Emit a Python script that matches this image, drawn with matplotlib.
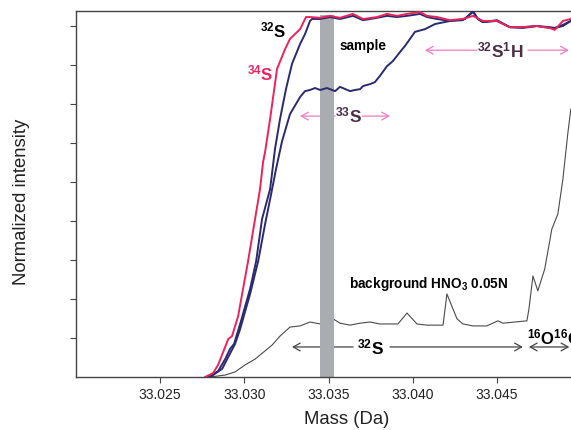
import matplotlib
matplotlib.use("Agg")
import matplotlib.pyplot as plt

plt.rcParams['font.family'] = ['Liberation Sans', 'DejaVu Sans']
plt.rcParams['mathtext.fontset'] = 'custom'
plt.rcParams['mathtext.rm'] = 'Liberation Sans'
plt.rcParams['mathtext.bf'] = 'Liberation Sans:bold'
plt.rcParams['mathtext.it'] = 'Liberation Sans:italic'

# ---------------- data (mass offsets in mDa above 33.020 Da, normalized intensity) -------------
base_mass = 33.020

s34_x = [7.67, 8.14, 8.44, 9.04, 9.27, 9.63, 10.22, 10.93, 11.11, 11.23, 11.53, 11.94, 12.42, 12.71,
         13.31, 13.66, 13.90, 14.50, 15.09, 15.68, 16.45, 17.05, 17.88, 18.47, 19.07, 19.66, 20.43,
         20.85, 21.44, 22.21, 22.98, 23.58, 24.17, 25.00, 25.77, 26.54, 27.37, 28.14, 28.44, 28.92, 29.39]
s34_y = [0.000, 0.010, 0.031, 0.097, 0.105, 0.156, 0.297, 0.482, 0.551, 0.577, 0.662, 0.790, 0.841, 0.867,
         0.892, 0.923, 0.923, 0.921, 0.926, 0.921, 0.931, 0.918, 0.923, 0.931, 0.926, 0.931, 0.936,
         0.926, 0.923, 0.915, 0.918, 0.926, 0.913, 0.913, 0.897, 0.897, 0.900, 0.895, 0.890, 0.913, 0.918]

s32_x = [7.85, 8.44, 8.86, 9.15, 9.39, 9.75, 10.34, 10.70, 11.05, 11.53, 11.82, 12.12, 12.47, 12.83,
         13.31, 13.60, 13.90, 14.02, 14.50, 15.09, 15.68, 16.45, 17.05, 17.88, 18.47, 19.07, 19.66,
         20.43, 20.85, 21.44, 22.21, 22.98, 23.58, 23.87, 24.17, 25.00, 25.77, 26.54, 27.37, 28.14,
         28.44, 28.92, 29.39]
s32_y = [0.000, 0.015, 0.046, 0.072, 0.085, 0.136, 0.226, 0.297, 0.405, 0.482, 0.585, 0.662, 0.738, 0.803,
         0.854, 0.879, 0.913, 0.918, 0.918, 0.923, 0.918, 0.926, 0.915, 0.921, 0.926, 0.923, 0.926,
         0.931, 0.923, 0.918, 0.913, 0.915, 0.936, 0.918, 0.910, 0.915, 0.897, 0.895, 0.900, 0.897,
         0.895, 0.900, 0.913]

s33_x = [7.97, 8.68, 9.04, 9.45, 9.75, 10.34, 10.82, 11.23, 11.53, 11.88, 12.24, 12.71, 13.31, 13.60,
         13.90, 14.20, 14.50, 14.91, 15.39, 15.68, 16.28, 16.57, 16.87, 17.05, 17.46, 17.75, 18.05,
         18.47, 18.82, 19.24, 19.54, 19.84, 20.13, 20.73, 21.32, 22.21, 23.10, 23.58, 23.87, 24.17,
         25.00, 25.77, 26.54, 27.37, 28.14, 28.44, 28.92, 29.39]
s33_y = [0.000, 0.021, 0.051, 0.085, 0.123, 0.213, 0.297, 0.392, 0.456, 0.533, 0.605, 0.674, 0.718, 0.733,
         0.736, 0.741, 0.736, 0.741, 0.733, 0.744, 0.733, 0.736, 0.738, 0.746, 0.751, 0.756, 0.772,
         0.797, 0.810, 0.833, 0.849, 0.867, 0.885, 0.892, 0.905, 0.913, 0.918, 0.938, 0.918, 0.910,
         0.913, 0.897, 0.897, 0.900, 0.895, 0.895, 0.903, 0.913]

bg_x = [7.97, 8.86, 9.45, 10.04, 10.64, 11.23, 11.65, 12.12, 12.71, 13.31, 13.90, 14.50, 15.09, 15.68,
        16.28, 16.87, 17.46, 18.05, 19.12, 19.66, 20.25, 20.85, 21.80, 22.03, 22.63, 22.98, 23.58,
        24.40, 25.06, 25.36, 26.78, 26.90, 27.14, 27.43, 27.84, 28.26, 28.62, 28.92, 29.22, 29.39]
bg_y = [0.000, 0.005, 0.013, 0.031, 0.046, 0.067, 0.082, 0.105, 0.128, 0.131, 0.141, 0.136, 0.154, 0.138,
        0.133, 0.138, 0.141, 0.136, 0.136, 0.164, 0.136, 0.133, 0.133, 0.213, 0.149, 0.136, 0.131,
        0.131, 0.144, 0.138, 0.144, 0.174, 0.259, 0.221, 0.277, 0.379, 0.418, 0.508, 0.628, 0.687]

sample_window = (33.03452, 33.03530)
x_ticks = [33.025, 33.030, 33.035, 33.040, 33.045]
y_ticks = [0.1, 0.2, 0.3, 0.4, 0.5, 0.6, 0.7, 0.8, 0.9]


def mass(offsets):
    return [base_mass + o / 1000.0 for o in offsets]


RED = '#e8245c'
NAVY = '#2c2a6e'
PINK = '#f07cbf'
PLUM = '#4a2f44'
BGC = '#4a4a4a'

fig = plt.figure(figsize=(5.71, 4.31), dpi=100)
ax = fig.add_axes([76 / 571, 1 - 378 / 431, 1 - 76 / 571, (378 - 12) / 431])
ax.set_xlim(33.0200, 33.0494)
ax.set_ylim(0, 0.9385)

ax.axvspan(*sample_window, ymin=0, ymax=0.99, color='#a9adb1', lw=0, zorder=2)

ax.plot(mass(bg_x), bg_y, color=BGC, lw=0.8, zorder=1.5)
ax.plot(mass(s33_x), s33_y, color=NAVY, lw=1.4, zorder=3)
ax.plot(mass(s32_x), s32_y, color=NAVY, lw=1.4, zorder=3)
ax.plot(mass(s34_x), s34_y, color=RED, lw=1.4, zorder=3.1)

ax.set_xticks(x_ticks)
ax.set_xticklabels([f"{t:.3f}" for t in x_ticks], fontsize=10, color='#222222')
ax.set_yticks(y_ticks)
ax.set_yticklabels([])
ax.tick_params(axis='both', direction='out', length=4, width=0.8, color='#444444')
for side in ['left', 'bottom', 'top']:
    ax.spines[side].set_color('#444444')
    ax.spines[side].set_linewidth(1.0)
ax.spines['right'].set_visible(False)


def arrow(x0, x1, y, color, style='->'):
    ax.annotate('', xy=(base_mass + x1 / 1000, y), xytext=(base_mass + x0 / 1000, y),
                arrowprops=dict(arrowstyle=f'{style},head_length=0.5,head_width=0.28',
                                color=color, lw=0.9, shrinkA=0, shrinkB=0),
                zorder=1, annotation_clip=False)


def label(x, y, s, color='black', size=12, ha='center'):
    ax.text(base_mass + x / 1000, y, s, color=color, fontsize=size, fontweight='bold',
            ha=ha, va='center', zorder=4, clip_on=False)


# curve labels
label(11.69, 0.890, r'$^{\mathbf{32}}$S', 'black', 12)
label(10.93, 0.782, r'$^{\mathbf{34}}$S', RED, 12)
label(17.05, 0.851, 'sample', 'black', 9.8)
label(16.22, 0.241, r'background HNO$_{\mathbf{3}}$ 0.05N', 'black', 9.8, ha='left')

# 33S arrow
label(16.16, 0.672, r'$^{\mathbf{33}}$S', PLUM, 12.5)
arrow(15.39, 13.31, 0.669, PINK)
arrow(16.99, 18.65, 0.669, PINK)

# 32S1H arrow
label(25.18, 0.841, r'$^{\mathbf{32}}$S$^{\mathbf{1}}$H', PLUM, 12.5)
arrow(23.82, 20.73, 0.838, PINK)
arrow(26.84, 29.27, 0.838, PINK)

# background 32S arrow
label(17.52, 0.079, r'$^{\mathbf{32}}$S', 'black', 12.5)
arrow(16.46, 12.83, 0.077, '#444444')
arrow(18.65, 26.54, 0.077, '#444444')

# 16O16O arrow
label(26.78, 0.105, r'$^{\mathbf{16}}$O$^{\mathbf{16}}$O', 'black', 12, ha='left')
arrow(26.90, 29.30, 0.077, '#444444', style='<->')

fig.text(347 / 571, 1 - 420 / 431, 'Mass (Da)', fontsize=13.3, ha='center', va='center', color='#222222')
fig.text(22 / 571, 1 - 202 / 431, 'Normalized intensity', fontsize=13.3, rotation=90,
         ha='center', va='center', color='#222222')

fig.savefig('out.png', dpi=100)
